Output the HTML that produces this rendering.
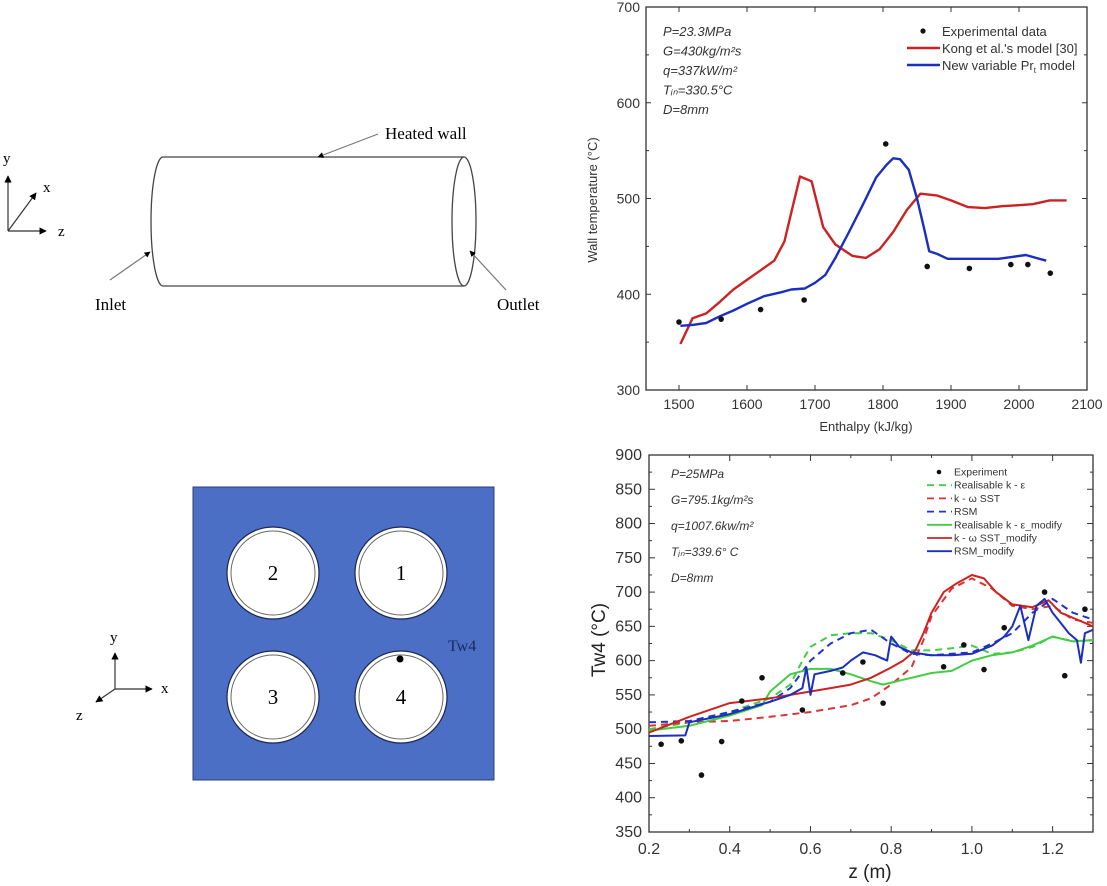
<!DOCTYPE html>
<html><head><meta charset="utf-8"><style>
html,body{margin:0;padding:0;background:#fff;}
svg{display:block;font-family:"Liberation Sans",Arial,sans-serif;}
.serif{font-family:"Liberation Serif","Times New Roman",serif;}
</style></head><body>
<svg id="svg" width="1107" height="886" viewBox="0 0 1107 886" xmlns="http://www.w3.org/2000/svg">
<defs>
<marker id="ah" viewBox="0 0 10 10" refX="9" refY="5" markerWidth="6" markerHeight="6" orient="auto"><path d="M0,0L10,5L0,10z" fill="#000"/></marker>
<marker id="ahg" viewBox="0 0 10 10" refX="9" refY="5" markerWidth="5" markerHeight="5" orient="auto"><path d="M0,0L10,5L0,10z" fill="#000"/></marker>
</defs>

<g class="serif">
  <g stroke="#333" stroke-width="1.2" fill="none">
    <line x1="8" y1="231" x2="8" y2="176" marker-end="url(#ah)"/>
    <line x1="8" y1="231" x2="46" y2="231" marker-end="url(#ah)"/>
    <line x1="8" y1="231" x2="36" y2="193" marker-end="url(#ah)"/>
  </g>
  <text x="3" y="163" font-size="15" class="serif">y</text>
  <text x="43" y="192" font-size="15" class="serif">x</text>
  <text x="58" y="236" font-size="15" class="serif">z</text>
  <g stroke="#444" stroke-width="1.3" fill="none">
    <path d="M163,157 A12,64.5 0 0 0 163,286"/>
    <line x1="163" y1="157" x2="464" y2="157"/>
    <line x1="163" y1="286" x2="464" y2="286"/>
    <ellipse cx="464" cy="221.5" rx="12" ry="64.5"/>
  </g>
  <g stroke="#777" stroke-width="1.2" fill="none">
    <line x1="378" y1="134" x2="318" y2="157" marker-end="url(#ahg)"/>
    <line x1="110" y1="280" x2="150" y2="252" marker-end="url(#ahg)"/>
    <line x1="506" y1="290" x2="470" y2="251" marker-end="url(#ahg)"/>
  </g>
  <text x="385" y="139" font-size="17" class="serif">Heated wall</text>
  <text x="95" y="310" font-size="17" class="serif">Inlet</text>
  <text x="497" y="310" font-size="17" class="serif">Outlet</text>
</g>

<g class="serif">
  <g stroke="#333" stroke-width="1.2" fill="none">
    <line x1="115" y1="689" x2="115" y2="653" marker-end="url(#ah)"/>
    <line x1="115" y1="689" x2="152" y2="689" marker-end="url(#ah)"/>
    <line x1="115" y1="689" x2="96" y2="702" marker-end="url(#ah)"/>
  </g>
  <text x="110" y="642" font-size="15" class="serif">y</text>
  <text x="161" y="693" font-size="15" class="serif">x</text>
  <text x="76" y="720" font-size="15" class="serif">z</text>
  <rect x="193" y="487" width="301" height="293" fill="#4a6fc4" stroke="#2c3e7a" stroke-width="1"/>
  <g><circle cx="401" cy="573" r="46" fill="#fff" stroke="#1a2550" stroke-width="1.2"/><circle cx="401" cy="573" r="42" fill="none" stroke="#666" stroke-width="1"/><text x="401" y="580" font-size="21" text-anchor="middle" class="serif">1</text></g>
  <g><circle cx="273" cy="573" r="46" fill="#fff" stroke="#1a2550" stroke-width="1.2"/><circle cx="273" cy="573" r="42" fill="none" stroke="#666" stroke-width="1"/><text x="273" y="580" font-size="21" text-anchor="middle" class="serif">2</text></g>
  <g><circle cx="273" cy="697" r="46" fill="#fff" stroke="#1a2550" stroke-width="1.2"/><circle cx="273" cy="697" r="42" fill="none" stroke="#666" stroke-width="1"/><text x="273" y="704" font-size="21" text-anchor="middle" class="serif">3</text></g>
  <g><circle cx="401" cy="697" r="46" fill="#fff" stroke="#1a2550" stroke-width="1.2"/><circle cx="401" cy="697" r="42" fill="none" stroke="#666" stroke-width="1"/><text x="401" y="704" font-size="21" text-anchor="middle" class="serif">4</text></g>
  <circle cx="400" cy="659" r="3.5" fill="#000"/>
  <text x="448" y="651" font-size="16" fill="#1a2a60" class="serif">Tw4</text>
</g>

<g id="chart1"></g>
<g id="chart2"></g>
</svg>
<script>
// ---------- Chart 1 data ----------
const c1XTicks = [1500,1600,1700,1800,1900,2000,2100];
const c1YTicks = [300,400,500,600,700];
const c1RedX = [1502,1520,1540,1560,1580,1600,1620,1640,1655,1665,1678,1695,1712,1730,1755,1775,1795,1815,1835,1855,1880,1900,1925,1950,1975,2000,2020,2045,2070];
const c1RedY = [348,375,380,392,405,415,425,435,455,485,523,518,470,452,440,438,447,465,488,505,503,498,491,490,492,493,494,498,498];
const c1BlueX = [1502,1520,1540,1560,1580,1600,1625,1650,1665,1685,1700,1715,1730,1750,1770,1790,1805,1815,1825,1838,1850,1860,1868,1880,1895,1920,1945,1970,1990,2010,2025,2040];
const c1BlueY = [367,368,370,377,383,390,398,402,405,406,412,420,438,465,493,522,535,542,541,530,500,470,445,442,437,437,437,437,439,441,438,435];
const c1ExpX = [1500,1562,1620,1684,1804,1865,1927,1988,2013,2046];
const c1ExpY = [371,374,384,394,557,429,427,431,431,422];

// ---------- Chart 2 data ----------
const c2XTicks = [0.2,0.4,0.6,0.8,1.0,1.2];
const c2XLabels = ["0.2","0.4","0.6","0.8","1.0","1.2"];
const c2YTicks = [350,400,450,500,550,600,650,700,750,800,850,900];
const c2ExpX = [0.23,0.28,0.33,0.38,0.43,0.48,0.58,0.68,0.73,0.78,0.93,0.98,1.03,1.08,1.18,1.23,1.28];
const c2ExpY = [478,483,433,482,541,575,528,582,598,538,591,623,587,648,700,578,675];
const c2GreenDashX = [0.2,0.3,0.4,0.5,0.55,0.58,0.6,0.65,0.7,0.75,0.8,0.85,0.9,0.95,1.0,1.05,1.1,1.15,1.2,1.25,1.3];
const c2GreenDashY = [500,510,525,545,565,600,620,637,640,640,630,615,615,618,622,610,612,620,635,628,630];
const c2RedDashX = [0.2,0.3,0.4,0.5,0.6,0.7,0.75,0.8,0.85,0.88,0.9,0.95,1.0,1.05,1.1,1.15,1.2,1.25,1.3];
const c2RedDashY = [505,510,512,518,525,535,545,565,590,630,665,705,720,705,680,675,680,660,655];
const c2BlueDashX = [0.2,0.3,0.4,0.5,0.55,0.6,0.65,0.7,0.75,0.8,0.85,0.9,0.95,1.0,1.05,1.1,1.15,1.2,1.25,1.3];
const c2BlueDashY = [510,512,525,540,560,600,625,640,645,625,610,608,610,612,625,640,670,690,670,660];
const c2GreenX = [0.2,0.3,0.4,0.48,0.5,0.55,0.6,0.65,0.7,0.75,0.78,0.85,0.9,0.95,1.0,1.05,1.1,1.15,1.2,1.25,1.3];
const c2GreenY = [498,505,520,535,555,580,588,588,580,570,565,575,582,585,600,608,612,622,635,628,630];
const c2RedX = [0.2,0.3,0.4,0.5,0.55,0.6,0.65,0.7,0.75,0.8,0.83,0.86,0.88,0.9,0.93,0.96,1.0,1.03,1.06,1.1,1.15,1.19,1.22,1.26,1.3];
const c2RedY = [495,518,538,545,550,555,560,565,575,590,600,615,640,670,700,712,725,720,700,682,678,688,670,660,650];
const c2BlueX = [0.2,0.29,0.3,0.4,0.5,0.55,0.58,0.59,0.6,0.61,0.65,0.68,0.7,0.73,0.76,0.79,0.8,0.82,0.85,0.9,0.95,1.0,1.05,1.08,1.1,1.12,1.14,1.16,1.18,1.2,1.22,1.24,1.26,1.27,1.28,1.3];
const c2BlueY = [490,491,510,522,540,550,560,590,550,580,585,590,600,612,608,600,635,620,612,608,608,610,622,635,650,680,630,680,690,670,655,640,630,597,640,645];
const c2LegendNames = ["Experiment","Realisable k - \u03b5","k - \u03c9 SST","RSM","Realisable k - \u03b5_modify","k - \u03c9 SST_modify","RSM_modify"];

const NS = "http://www.w3.org/2000/svg";
function mk(parent, tag, attrs, text){
  const e = document.createElementNS(NS, tag);
  for (const k in attrs) e.setAttribute(k, attrs[k]);
  if (text !== undefined) e.textContent = text;
  parent.appendChild(e);
  return e;
}
function pathD(xs, ys, sx, sy){
  return xs.map((v,i)=>(i?"L":"M")+sx(v).toFixed(1)+","+sy(ys[i]).toFixed(1)).join("");
}

(function(){
  const g = document.getElementById("chart1");
  const L=646, R=1087, T=7, B=390;
  const sx = v => 679 + (v-1500)*(1087-679)/600;
  const sy = v => B - (v-300)*(B-T)/400;
  const frame = mk(g,"rect",{x:L,y:T,width:R-L,height:B-T,fill:"none",stroke:"#333","stroke-width":1.3});
  
  
  c1XTicks.forEach(t=>{
    const x=sx(t);
    mk(g,"line",{x1:x,y1:B,x2:x,y2:B-5,stroke:"#333"});
    mk(g,"line",{x1:x,y1:T,x2:x,y2:T+5,stroke:"#333"});
    const lb = mk(g,"text",{x:x,y:B+19,"font-size":14,"text-anchor":"middle",fill:"#333"},String(t));
    
    
  });
  c1YTicks.forEach(t=>{
    const y=sy(t);
    mk(g,"line",{x1:L,y1:y,x2:L+5,y2:y,stroke:"#333"});
    mk(g,"line",{x1:R,y1:y,x2:R-5,y2:y,stroke:"#333"});
    const lb = mk(g,"text",{x:L-6,y:y+5,"font-size":14,"text-anchor":"end",fill:"#333"},String(t));
    
    
    if (t<700){ const ym=sy(t+50); mk(g,"line",{x1:L,y1:ym,x2:L+3,y2:ym,stroke:"#333"}); mk(g,"line",{x1:R,y1:ym,x2:R-3,y2:ym,stroke:"#333"}); }
  });
  const xt = mk(g,"text",{x:866,y:431,"font-size":13,"text-anchor":"middle",fill:"#333"},"Enthalpy (kJ/kg)");
  
  
  const yt = mk(g,"text",{x:0,y:0,"font-size":13,"text-anchor":"middle",fill:"#333",transform:"translate(597,200) rotate(-90)"},"Wall temperature (\u00b0C)");
  
  
  const ann = ["P=23.3MPa","G=430kg/m\u00b2s","q=337kW/m\u00b2","T\u1d62\u2099=330.5\u00b0C","D=8mm"];
  ann.forEach((s,i)=>{
    const a = mk(g,"text",{x:663,y:36+i*19.5,"font-size":13,"font-style":"italic",fill:"#333"},s);
    
    
  });
  const red = mk(g,"path",{d:pathD(c1RedX,c1RedY,sx,sy),fill:"none",stroke:"#cc2222","stroke-width":2.4,"stroke-linejoin":"round"});
  
  
  const blue = mk(g,"path",{d:pathD(c1BlueX,c1BlueY,sx,sy),fill:"none",stroke:"#1a2ec0","stroke-width":2.4,"stroke-linejoin":"round"});
  
  
  c1ExpX.forEach((v,i)=>{
    const c = mk(g,"circle",{cx:sx(v),cy:sy(c1ExpY[i]),r:2.8,fill:"#111"});
    
    
  });
  const lg = mk(g,"g",{});
  
  
  mk(lg,"circle",{cx:923,cy:31,r:2.6,fill:"#111"});
  mk(lg,"text",{x:942,y:36,"font-size":13,fill:"#333"},"Experimental data");
  mk(lg,"line",{x1:907,y1:48,x2:940,y2:48,stroke:"#cc2222","stroke-width":2.4});
  mk(lg,"text",{x:942,y:53,"font-size":13,fill:"#333"},"Kong et al.'s model [30]");
  mk(lg,"line",{x1:907,y1:65,x2:940,y2:65,stroke:"#1a2ec0","stroke-width":2.4});
  const t3 = mk(lg,"text",{x:942,y:70,"font-size":13,fill:"#333"},"New variable Pr");
  const sub = document.createElementNS(NS,"tspan"); sub.setAttribute("font-size","8"); sub.setAttribute("dy","3"); sub.textContent="t";
  t3.appendChild(sub);
  const rest = document.createElementNS(NS,"tspan"); rest.setAttribute("dy","-3"); rest.textContent=" model";
  t3.appendChild(rest);
})();

(function(){
  const g = document.getElementById("chart2");
  const L=649, R=1093, T=455, B=832;
  const sx = v => L + (v-0.2)*(R-L)/1.1;
  const sy = v => B - (v-350)*(B-T)/550;
  const frame = mk(g,"rect",{x:L,y:T,width:R-L,height:B-T,fill:"none",stroke:"#333","stroke-width":1.3});
  
  
  c2XTicks.forEach((t,i)=>{
    const x=sx(t);
    mk(g,"line",{x1:x,y1:B,x2:x,y2:B-6,stroke:"#333"});
    mk(g,"line",{x1:x,y1:T,x2:x,y2:T+6,stroke:"#333"});
    const xm = sx(t+0.1);
    if (t+0.1<=1.3){ mk(g,"line",{x1:xm,y1:B,x2:xm,y2:B-3,stroke:"#333"}); mk(g,"line",{x1:xm,y1:T,x2:xm,y2:T+3,stroke:"#333"}); }
    const lb = mk(g,"text",{x:x,y:B+22,"font-size":16,"text-anchor":"middle",fill:"#333"},c2XLabels[i]);
    
    
  });
  c2YTicks.forEach(t=>{
    const y=sy(t);
    mk(g,"line",{x1:L,y1:y,x2:L+6,y2:y,stroke:"#333"});
    mk(g,"line",{x1:R,y1:y,x2:R-6,y2:y,stroke:"#333"});
    if (t<900){ const ym=sy(t+25); mk(g,"line",{x1:L,y1:ym,x2:L+3,y2:ym,stroke:"#333"}); mk(g,"line",{x1:R,y1:ym,x2:R-3,y2:ym,stroke:"#333"}); }
    const lb = mk(g,"text",{x:L-7,y:y+5,"font-size":16,"text-anchor":"end",fill:"#333"},String(t));
    
    
  });
  const xt = mk(g,"text",{x:870,y:878,"font-size":19,"text-anchor":"middle",fill:"#222"},"z (m)");
  
  
  const yt = mk(g,"text",{x:0,y:0,"font-size":19,"text-anchor":"middle",fill:"#222",transform:"translate(605,640) rotate(-90)"},"Tw4 (\u00b0C)");
  
  
  const ann = ["P=25MPa","G=795.1kg/m\u00b2s","q=1007.6kw/m\u00b2","T\u1d62\u2099=339.6\u00b0 C","D=8mm"];
  ann.forEach((s,i)=>{
    const a = mk(g,"text",{x:671,y:478+i*26,"font-size":12,"font-style":"italic",fill:"#333"},s);
    
    
  });
  const series = [
    [c2GreenDashX,c2GreenDashY,"#44cc44","7,5","realisable-k-epsilon-line"],
    [c2RedDashX,c2RedDashY,"#dd3333","7,5","k-omega-sst-line"],
    [c2BlueDashX,c2BlueDashY,"#2233cc","7,5","rsm-line"],
    [c2GreenX,c2GreenY,"#44cc44","","realisable-k-epsilon-modify-line"],
    [c2RedX,c2RedY,"#cc2222","","k-omega-sst-modify-line"],
    [c2BlueX,c2BlueY,"#1a2ec0","","rsm-modify-line"]
  ];
  series.forEach(s=>{
    const p = mk(g,"path",{d:pathD(s[0],s[1],sx,sy),fill:"none",stroke:s[2],"stroke-width":2,"stroke-dasharray":s[3]||"none","stroke-linejoin":"round"});
    
    
  });
  c2ExpX.forEach((v,i)=>{
    const c = mk(g,"circle",{cx:sx(v),cy:sy(c2ExpY[i]),r:2.8,fill:"#111"});
    
    
  });
  const lg = mk(g,"g",{});
  
  
  const cols = ["#111","#44cc44","#dd3333","#2233cc","#44cc44","#cc2222","#1a2ec0"];
  c2LegendNames.forEach((n,i)=>{
    const y = 472 + i*13.2;
    if (i===0) mk(lg,"circle",{cx:939,cy:y,r:2.3,fill:"#111"});
    else mk(lg,"line",{x1:927,y1:y,x2:952,y2:y,stroke:cols[i],"stroke-width":1.8,"stroke-dasharray":(i<=3?"7,5":"none")});
    const t = mk(lg,"text",{x:954,y:y+3.5,"font-size":10.5,fill:"#333"},n);
    
    
  });
})();
</script>
</body></html>
